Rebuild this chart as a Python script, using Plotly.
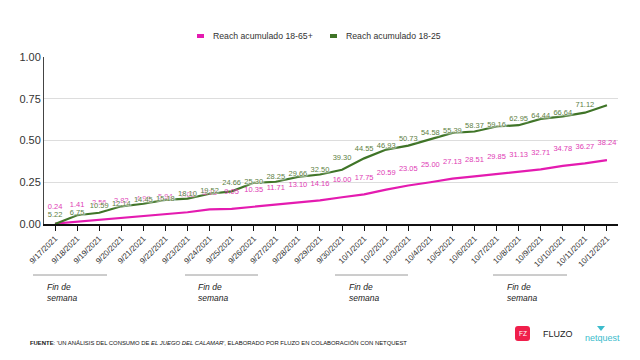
import plotly.graph_objects as go

# ---------------- data ----------------
dates = ["9/17/2021", "9/18/2021", "9/19/2021", "9/20/2021", "9/21/2021", "9/22/2021",
         "9/23/2021", "9/24/2021", "9/25/2021", "9/26/2021", "9/27/2021", "9/28/2021",
         "9/29/2021", "9/30/2021", "10/1/2021", "10/2/2021", "10/3/2021", "10/4/2021",
         "10/5/2021", "10/6/2021", "10/7/2021", "10/8/2021", "10/9/2021", "10/10/2021",
         "10/11/2021", "10/12/2021"]

# Reach acumulado 18-65+ (%)
reach_18_65 = [0.24, 1.41, 2.56, 3.82, 4.98, 5.94, 7.02, 8.73, 9.05, 10.35, 11.71, 13.10,
               14.16, 16.00, 17.75, 20.59, 23.05, 25.00, 27.13, 28.51, 29.85, 31.13, 32.71,
               34.78, 36.27, 38.24]

# Reach acumulado 18-25 (%) as drawn by the line
reach_18_25 = [0.00, 5.22, 6.75, 10.59, 12.14, 14.45, 15.18, 18.10, 19.52, 24.66, 25.30,
               28.25, 29.66, 32.50, 39.30, 44.55, 46.93, 50.73, 54.58, 55.39, 58.37, 59.16,
               62.95, 64.44, 66.64, 71.12]

y_ticks = [0.0, 0.25, 0.5, 0.75, 1.0]
series_names = ["Reach acumulado 18-65+", "Reach acumulado 18-25"]

# ---------------- style ----------------
MAGENTA = "#e41bb0"
MAGENTA_TXT = "#e03cb5"
GREEN = "#3f7427"
GREEN_TXT = "#5e7f45"
FONT = "Liberation Sans, Arial, sans-serif"
NARROW = "Liberation Sans Narrow, Arial Narrow, Liberation Sans, Arial"

W, H = 640, 360
OFF = 8  # page body margin
L, T = 44 - OFF, 57 - OFF
R, B = W - (618 - OFF), H - (224 - OFF)
PW, PH = W - L - R, H - T - B


def px(x):
    return (x - OFF - L) / PW


def py(y):
    return (H - B - (y - OFF)) / PH


v65 = [v / 100 for v in reach_18_65]
v25 = [v / 100 for v in reach_18_25]
LABEL_LIFT_65 = 0.10

fig = go.Figure()

fig.add_trace(go.Scatter(x=dates, y=v65, mode="lines", line=dict(color=MAGENTA, width=2.2),
                         name=series_names[0], showlegend=False, hoverinfo="skip"))
fig.add_trace(go.Scatter(x=dates, y=v25, mode="lines", line=dict(color=GREEN, width=2.2),
                         name=series_names[1], showlegend=False, hoverinfo="skip"))

# data labels
fig.add_trace(go.Scatter(x=dates, y=[v + LABEL_LIFT_65 for v in v65], mode="text",
                         text=[f"{v:.2f}" for v in reach_18_65], textposition="middle center",
                         textfont=dict(size=7.5, color=MAGENTA_TXT, family=FONT),
                         showlegend=False, hoverinfo="skip"))
fig.add_trace(go.Scatter(x=dates[:-1], y=v25[1:], mode="text",
                         text=[f"{v:.2f}" for v in reach_18_25[1:]], textposition="middle center",
                         textfont=dict(size=7.5, color=GREEN_TXT, family=FONT,
                                       shadow="white 0px 0px 2px, white 0px 0px 2px, white 0px 0px 3px, white 0px 0px 3px"),
                         showlegend=False, hoverinfo="skip"))

shapes = []
annotations = []

# legend (drawn manually)
legend_px = [(197, 204, 211), (330, 337, 344)]
for (sx0, sx1, tx), name, col in zip(legend_px, series_names, [MAGENTA, GREEN]):
    shapes.append(dict(type="line", xref="paper", yref="paper", x0=px(sx0), x1=px(sx1),
                       y0=py(36), y1=py(36), line=dict(color=col, width=4)))
    annotations.append(dict(xref="paper", yref="paper", x=px(tx), y=py(36), xanchor="left",
                            yanchor="middle", showarrow=False, text=name,
                            font=dict(size=8.7, color="#333", family=FONT)))

# weekend markers
weekend_px = [(33, 107, 45), (185, 258, 196), (335, 408, 347), (493, 567, 505)]
for x0, x1, xt in weekend_px:
    shapes.append(dict(type="line", xref="paper", yref="paper", x0=px(x0), x1=px(x1),
                       y0=py(275), y1=py(275), line=dict(color="#9a9a9a", width=1)))
    annotations.append(dict(xref="paper", yref="paper", x=px(xt), y=py(280), xanchor="left",
                            yanchor="top", showarrow=False, align="left",
                            text="<i>Fin de<br>semana</i>",
                            font=dict(size=8.5, color="#222", family=FONT)))

# source footer
annotations.append(dict(xref="paper", yref="paper", x=px(28), y=py(343), xanchor="left",
                        yanchor="middle", showarrow=False,
                        text="<b>FUENTE</b>: 'UN ANÁLISIS DEL CONSUMO DE <i>EL JUEGO DEL CALAMAR</i>', "
                             "ELABORADO POR FLUZO EN COLABORACIÓN CON NETQUEST",
                        font=dict(size=5.9, color="#111", family=NARROW)))

# FLUZO logo
x0, x1, y0, y1, r = 515, 530, 326, 341, 3
path = (f"M {px(x0 + r)},{py(y0)} L {px(x1 - r)},{py(y0)} Q {px(x1)},{py(y0)} {px(x1)},{py(y0 + r)} "
        f"L {px(x1)},{py(y1 - r)} Q {px(x1)},{py(y1)} {px(x1 - r)},{py(y1)} "
        f"L {px(x0 + r)},{py(y1)} Q {px(x0)},{py(y1)} {px(x0)},{py(y1 - r)} "
        f"L {px(x0)},{py(y0 + r)} Q {px(x0)},{py(y0)} {px(x0 + r)},{py(y0)} Z")
shapes.append(dict(type="path", xref="paper", yref="paper", path=path,
                   fillcolor="#f01f4b", line=dict(width=0)))
annotations.append(dict(xref="paper", yref="paper", x=px(522.5), y=py(333.5), showarrow=False,
                        text="FZ", font=dict(size=6.5, color="white", family=FONT),
                        xanchor="center", yanchor="middle"))
annotations.append(dict(xref="paper", yref="paper", x=px(541), y=py(334), showarrow=False,
                        text="FLUZO", xanchor="left", yanchor="middle",
                        font=dict(size=9, color="#222", family=NARROW)))
# netquest logo
annotations.append(dict(xref="paper", yref="paper", x=px(583), y=py(338), showarrow=False,
                        text="netquest", xanchor="left", yanchor="middle",
                        font=dict(size=9, color="#3cbccc", family=FONT)))
shapes.append(dict(type="path", xref="paper", yref="paper",
                   path=f"M {px(597)},{py(326)} L {px(605)},{py(326)} L {px(601)},{py(331)} Z",
                   fillcolor="#3cbccc", line=dict(width=0)))

fig.update_layout(
    width=W, height=H,
    margin=dict(l=L, r=R, t=T, b=B, autoexpand=False),
    paper_bgcolor="white", plot_bgcolor="white",
    font=dict(family=FONT, color="#333"),
    showlegend=False,
    xaxis=dict(type="category", categoryorder="array", categoryarray=dates,
               range=[-0.5, len(dates) - 0.5], showgrid=False, showline=True,
               linecolor="#111", linewidth=1.5, ticks="outside", ticklen=5, tickcolor="#111",
               tickangle=-45, tickfont=dict(size=8, color="#333"), zeroline=False,
               automargin=False),
    yaxis=dict(range=[0, 1], tickvals=y_ticks, tickformat=".2f", showgrid=True,
               gridcolor="#dddddd", gridwidth=1, showline=True, linecolor="#444", linewidth=1,
               ticks="", tickfont=dict(size=11, color="#333"), zeroline=False,
               automargin=False),
    shapes=shapes,
    annotations=annotations,
)

fig.write_html("out.html")
